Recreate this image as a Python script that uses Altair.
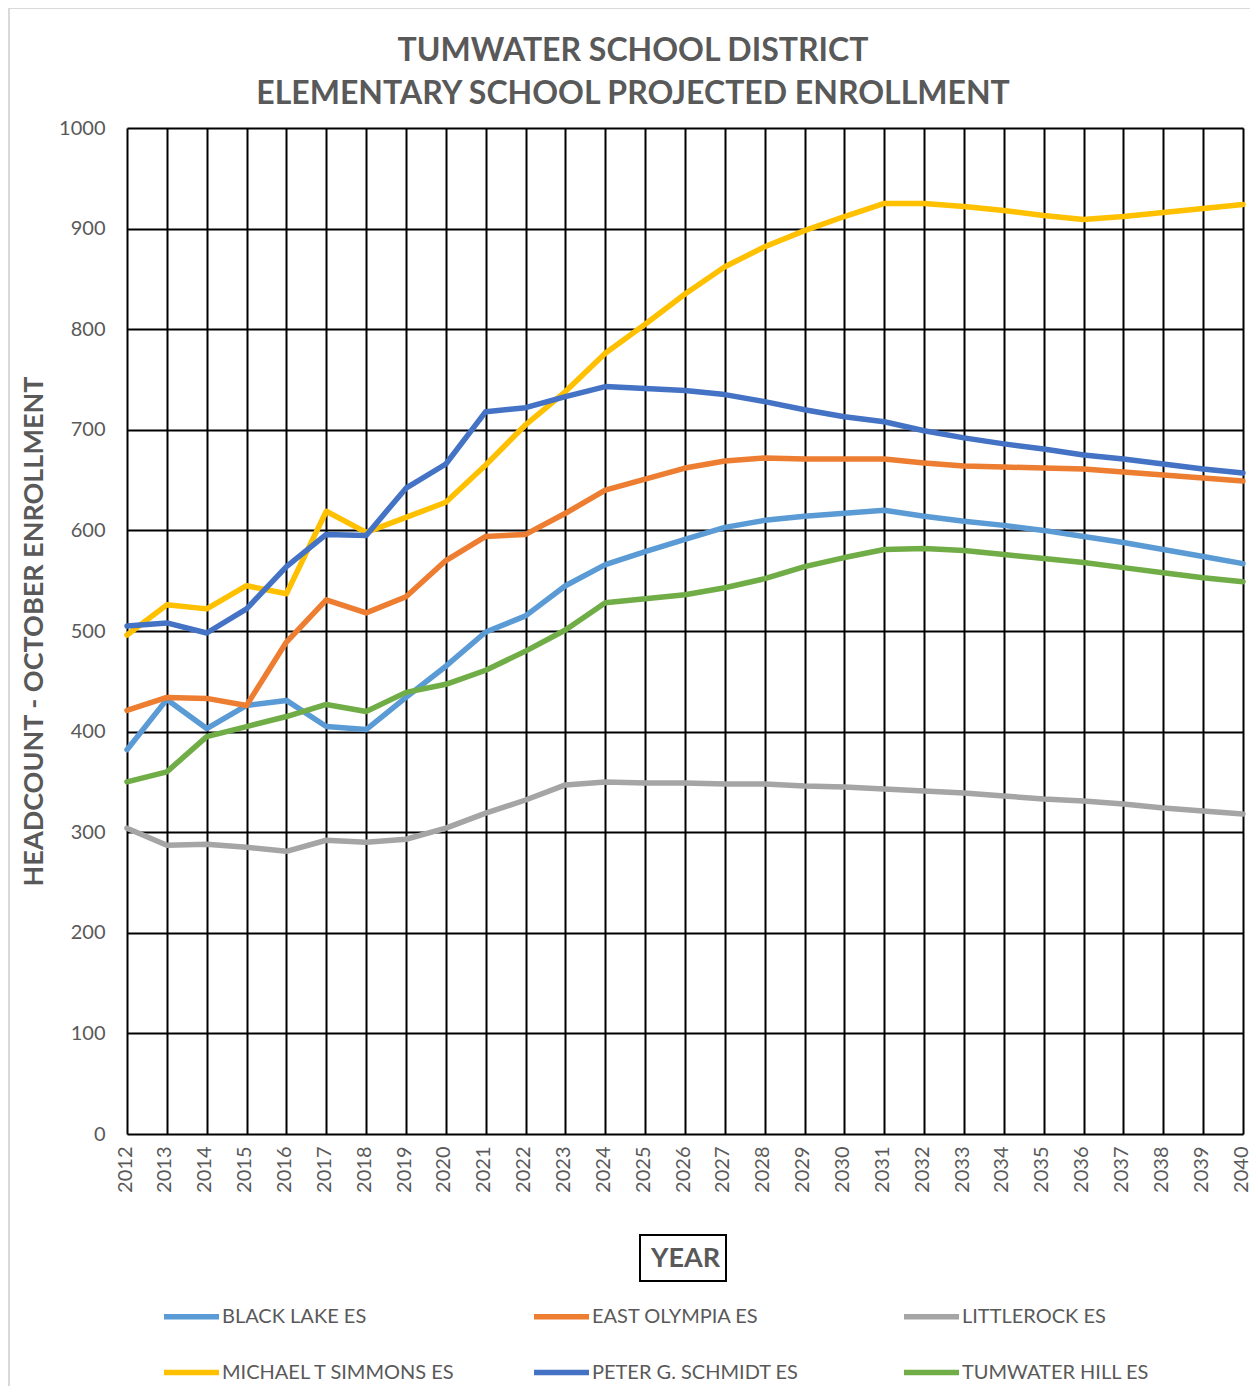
import altair as alt
import pandas as pd

years = list(range(2012, 2041))
schools = ["BLACK LAKE ES", "EAST OLYMPIA ES", "LITTLEROCK ES",
           "MICHAEL T SIMMONS ES", "PETER G. SCHMIDT ES", "TUMWATER HILL ES"]
colors = ["#5B9BD5", "#ED7D31", "#A5A5A5", "#FFC000", "#4472C4", "#70AD47"]
title_lines = ["TUMWATER SCHOOL DISTRICT", "ELEMENTARY SCHOOL PROJECTED ENROLLMENT"]

black_lake = [382, 432, 403, 426, 431, 405, 402, 434, 465, 499, 515, 545, 566, 579, 591,
              603, 610, 614, 617, 620, 614, 609, 605, 600, 594, 588, 581, 574, 567]
east_olympia = [421, 434, 433, 426, 489, 531, 518, 534, 570, 594, 596, 617, 640, 651, 662,
                669, 672, 671, 671, 671, 667, 664, 663, 662, 661, 658, 655, 652, 649]
littlerock = [304, 287, 288, 285, 281, 292, 290, 293, 304, 319, 332, 347, 350, 349, 349,
              348, 348, 346, 345, 343, 341, 339, 336, 333, 331, 328, 324, 321, 318]
michael_t_simmons = [496, 526, 522, 545, 537, 619, 598, 613, 628, 665, 705, 738, 776, 805, 835,
                     862, 882, 898, 912, 925, 925, 922, 918, 913, 909, 912, 916, 920, 924]
peter_g_schmidt = [505, 508, 498, 522, 564, 596, 595, 642, 666, 718, 722, 733, 743, 741, 739,
                   735, 728, 720, 713, 708, 699, 692, 686, 681, 675, 671, 666, 661, 657]
tumwater_hill = [350, 360, 395, 405, 415, 427, 420, 439, 447, 461, 480, 501, 528, 532, 536,
                 543, 552, 564, 573, 581, 582, 580, 576, 572, 568, 563, 558, 553, 549]

series = [black_lake, east_olympia, littlerock, michael_t_simmons, peter_g_schmidt, tumwater_hill]
y_ticks = list(range(0, 1001, 100))

rows = []
for si, (name, vals) in enumerate(zip(schools, series)):
    for yr, v in zip(years, vals):
        rows.append({"school": name, "order": si, "year": yr, "value": v})
df = pd.DataFrame(rows)

FONT = "Lato"
GRAY = "#595959"

lines = alt.Chart(df).mark_line(strokeWidth=5.5, strokeCap="round", strokeJoin="round").encode(
    x=alt.X("year:Q",
            scale=alt.Scale(domain=[2012, 2040], nice=False, zero=False),
            axis=alt.Axis(values=years, format="d", labelAngle=270, labelAlign="right",
                          labelBaseline="middle", labelFontSize=20, labelPadding=12,
                          labelOffset=-2, labelColor=GRAY, labelFont=FONT, grid=True,
                          gridColor="black", gridWidth=2, gridOpacity=1, domain=False,
                          ticks=False, tickSize=0,
                          title="YEAR", titleFont=FONT, titleFontSize=27, titleFontWeight="bold",
                          titleColor=GRAY, titleY=124, titleBaseline="middle",
                          labelOverlap=False, labelFlush=False)),
    y=alt.Y("value:Q",
            scale=alt.Scale(domain=[0, 1000], nice=False),
            axis=alt.Axis(values=y_ticks, format="d", labelFontSize=20, labelPadding=22,
                          labelColor=GRAY, labelFont=FONT, grid=True, gridColor="black",
                          gridWidth=2, gridOpacity=1, domain=False, ticks=False, tickSize=0,
                          title="HEADCOUNT - OCTOBER ENROLLMENT", titleFont=FONT,
                          titleFontSize=27, titleFontWeight="bold", titleColor=GRAY,
                          titleAngle=270, titleX=-93, titleY=503, titleAlign="center",
                          titleBaseline="middle", labelFlush=False)),
    color=alt.Color("school:N", scale=alt.Scale(domain=schools, range=colors),
                    legend=alt.Legend(title=None, orient="none", legendX=34, legendY=1158,
                                      direction="horizontal", columns=3, symbolType="stroke",
                                      symbolSize=3025, symbolStrokeWidth=5.5, labelFont=FONT,
                                      labelFontSize=20, labelColor=GRAY, labelOffset=0,
                                      gridAlign="all", columnPadding=67, rowPadding=14,
                                      labelLimit=400)),
    order=alt.Order("order:Q"),
    detail="school:N",
)

one = pd.DataFrame({"k": [0]})
year_box = alt.Chart(one).mark_rect(fill=None, stroke="black", strokeWidth=2, clip=False).encode(
    x=alt.value(513), x2=alt.value(599), y=alt.value(1107), y2=alt.value(1153))
outer_box = alt.Chart(one).mark_rect(fill=None, stroke="#D9D9D9", strokeWidth=2, clip=False).encode(
    x=alt.value(-118), x2=alt.value(1131), y=alt.value(-120), y2=alt.value(1290))
title1 = alt.Chart(one).mark_text(text=title_lines[0], font=FONT, fontSize=32, fontWeight="bold",
                                  color=GRAY, align="center", baseline="alphabetic").encode(
    x=alt.value(506), y=alt.value(-67))
title2 = alt.Chart(one).mark_text(text=title_lines[1], font=FONT, fontSize=32, fontWeight="bold",
                                  color=GRAY, align="center", baseline="alphabetic").encode(
    x=alt.value(506), y=alt.value(-24))

chart = alt.layer(outer_box, lines, year_box, title1, title2).properties(
    width=1116,
    height=1006,
    autosize=alt.AutoSizeParams(type="none"),
    padding={"left": 119, "top": 120, "right": 7, "bottom": 252},
).configure_view(stroke="black", strokeWidth=4).configure(background="white")

chart.save("out.html", embed_options={"renderer": "svg", "actions": False})
